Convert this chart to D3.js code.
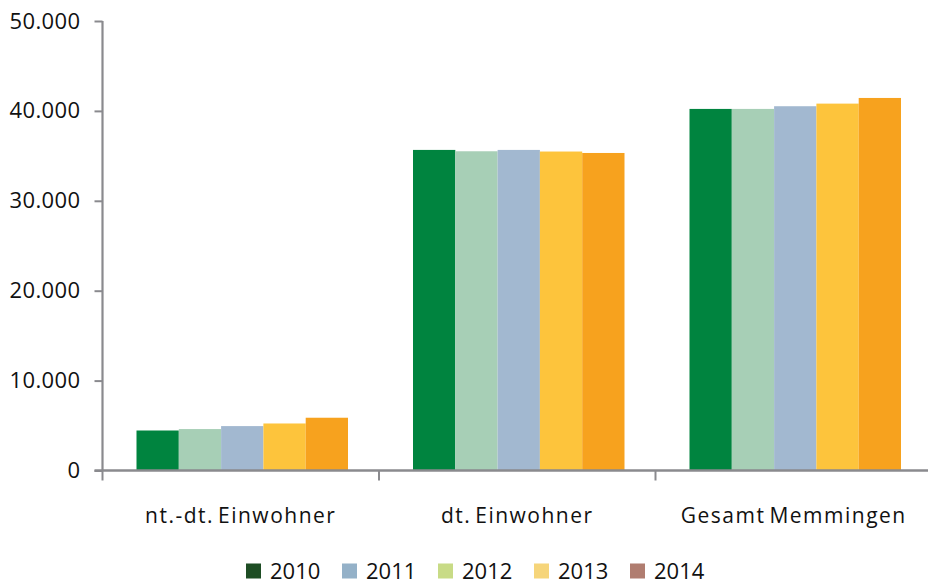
<!DOCTYPE html>
<html>
<head>
<meta charset="utf-8">
<script src="https://cdn.jsdelivr.net/npm/d3@7"></script>
<style>
  html, body { margin: 0; padding: 0; background: #fff; }
  svg { display: block; }
  svg text { font-family: "Open Sans", "Noto Sans", sans-serif; }
</style>
</head>
<body>
<svg id="chart" width="928" height="585"></svg>
<script>
// Einwohner nach Gruppe und Jahr
const categories = ["nt.-dt. Einwohner", "dt. Einwohner", "Gesamt Memmingen"];
const years = ["2010", "2011", "2012", "2013", "2014"];
const values2010 = [4450, 35660, 40220];
const values2011 = [4610, 35510, 40220];
const values2012 = [4940, 35660, 40520];
const values2013 = [5230, 35480, 40810];
const values2014 = [5870, 35320, 41440];
const yTicks = [0, 10000, 20000, 30000, 40000, 50000];
const barColors = ["#00843f", "#a7cfb6", "#a2b8d0", "#fdc43c", "#f7a21e"];
const legendColors = ["#1e4d24", "#94b1c8", "#c8db86", "#f6d57a", "#b07d70"];

const series = [values2010, values2011, values2012, values2013, values2014];

const svg = d3.select("#chart");
const plotLeft = 102.5, plotTop = 21, plotBottom = 470.5, plotRight = 932;
const axisColor = "#8a8a8e";
const fmt = v => d3.format(",")(v).replace(/,/g, ".");

const x0 = d3.scaleBand().domain(categories).range([plotLeft, plotRight]).padding(0);
const x1 = d3.scaleBand().domain(years)
  .range([34, x0.bandwidth() - 31]).padding(0);
const y = d3.scaleLinear().domain([0, 50000]).range([plotBottom, plotTop]);

// bars
const groups = svg.append("g").selectAll("g")
  .data(categories)
  .join("g")
  .attr("transform", d => `translate(${x0(d)},0)`);

groups.selectAll("rect")
  .data((c, ci) => years.map((yr, yi) => ({ yr, yi, v: series[yi][ci] })))
  .join("rect")
  .attr("x", d => x1(d.yr))
  .attr("width", x1.bandwidth())
  .attr("y", d => y(d.v))
  .attr("height", d => y(0) - y(d.v))
  .attr("fill", d => barColors[d.yi]);

// y axis
const yAxis = svg.append("g")
  .attr("transform", `translate(${plotLeft},0)`)
  .call(d3.axisLeft(y).tickValues(yTicks).tickFormat(fmt).tickSize(8).tickPadding(14));
yAxis.select(".domain").attr("stroke", axisColor).attr("stroke-width", 2.2)
  .attr("d", `M0,${plotTop}V${plotBottom}`);
yAxis.selectAll(".tick line").attr("stroke", axisColor).attr("stroke-width", 2);
yAxis.selectAll(".tick text").attr("fill", "#111")
  .style("font-size", "22px").style("letter-spacing", "0.4px");

// x axis
const xAxis = svg.append("g")
  .attr("transform", `translate(0,${plotBottom})`)
  .call(d3.axisBottom(x0).tickSize(0).tickPadding(0));
xAxis.select(".domain").attr("stroke", axisColor).attr("stroke-width", 2.5)
  .attr("d", `M${plotLeft - 8},0H${plotRight}`);
xAxis.selectAll(".tick text")
  .attr("y", 37.5)
  .attr("fill", "#111")
  .style("font-size", "21px")
  .style("letter-spacing", "1.5px")
  .style("word-spacing", "-3px");
// category separators
xAxis.selectAll(".sep")
  .data(categories)
  .join("line")
  .attr("class", "sep")
  .attr("x1", d => x0(d)).attr("x2", d => x0(d))
  .attr("y1", 0).attr("y2", 10)
  .attr("stroke", axisColor).attr("stroke-width", 2);

// legend
const legend = svg.append("g").attr("transform", "translate(246,563.5)");
const item = legend.selectAll("g")
  .data(years)
  .join("g")
  .attr("transform", (d, i) => `translate(${i * 96},0)`);
item.append("rect")
  .attr("width", 15).attr("height", 15)
  .attr("fill", (d, i) => legendColors[i]);
item.append("text")
  .attr("x", 24).attr("y", 15.5)
  .attr("fill", "#111")
  .style("font-size", "22px")
  .text(d => d);
</script>
</body>
</html>
